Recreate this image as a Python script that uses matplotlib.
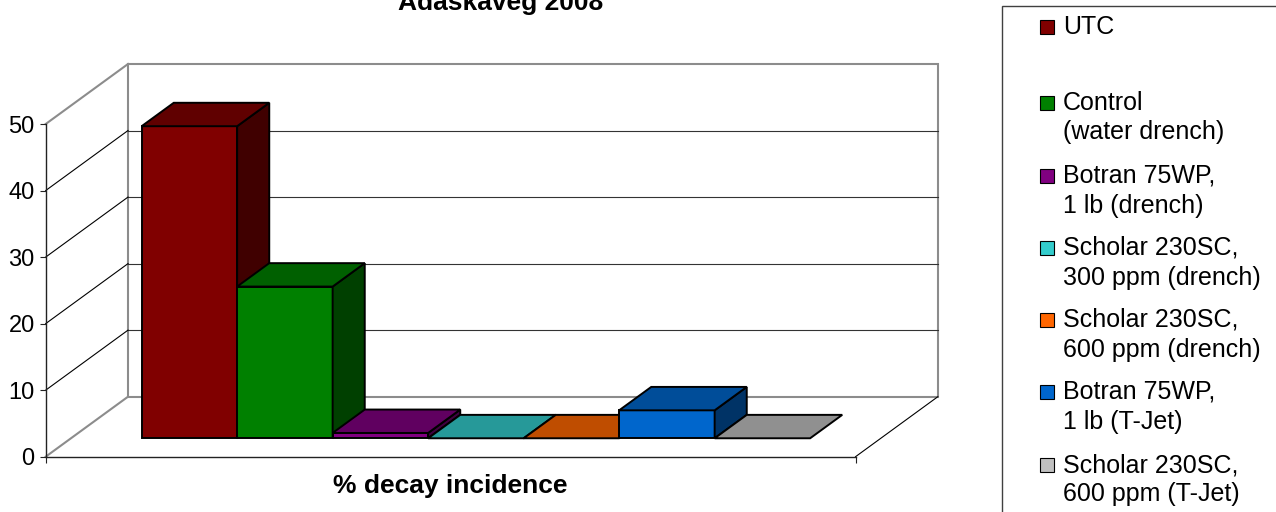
import matplotlib
matplotlib.use("Agg")
import matplotlib.pyplot as plt
from matplotlib.patches import Polygon, Rectangle
from matplotlib.colors import to_rgb

# ---------------- data ----------------
series_labels = [
    "UTC",
    "Control\n(water drench)",
    "Botran 75WP,\n1 lb (drench)",
    "Scholar 230SC,\n300 ppm (drench)",
    "Scholar 230SC,\n600 ppm (drench)",
    "Botran 75WP,\n1 lb (T-Jet)",
    "Scholar 230SC,\n600 ppm (T-Jet)",
]
decay_values = [46.9, 22.8, 0.8, 0.0, 0.0, 4.2, 0.0]
series_colors = ["#800000", "#008000", "#800080", "#33CCCC", "#FF6600", "#0066CC", "#C0C0C0"]
y_ticks = [0, 10, 20, 30, 40, 50]
title_text = "Adaskaveg 2008"
category_label = "% decay incidence"

# ---------------- layout ----------------
plt.rcParams['font.family'] = ['Liberation Sans', 'DejaVu Sans']
W, H = 1276, 512
px_axis_x = 45.7      # front y-axis position (px from left)
px_floor_y = 456.7    # front floor line (px from top)
unit_px = 95.5        # px per bar width
val_px = 6.654        # px per value unit
DX = 0.862            # depth offset, x units
DY = 9.02             # depth offset, value units
gap = 0.74
f_front = 0.307
bar_depth = 0.39
ymax = y_ticks[-1]
n = len(decay_values)
floor_len = 2 * gap + n

fig = plt.figure(figsize=(W / 100, H / 100), dpi=100)
ax = fig.add_axes([0, 0, 1, 1])
ax.set_xlim(-px_axis_x / unit_px, (W - px_axis_x) / unit_px)
ax.set_ylim(-(H - px_floor_y) / val_px, px_floor_y / val_px)
ax.patch.set_alpha(0)

wall_gray = "#8c8c8c"
# back wall
ax.add_patch(Rectangle((DX, DY), floor_len, ymax, facecolor="white",
                       edgecolor=wall_gray, lw=1.5, zorder=1))
for t in y_ticks[1:-1]:
    ax.plot([DX, DX + floor_len], [t + DY, t + DY], color="#333333", lw=0.8, zorder=1.5)
# side wall lines
for t in y_ticks:
    edge = t in (y_ticks[0], y_ticks[-1])
    ax.plot([0, DX], [t, t + DY], color=wall_gray if edge else "black",
            lw=1.5 if edge else 0.8, zorder=1.5)
# floor right edge
ax.plot([floor_len, floor_len + DX], [0, DY], color="black", lw=0.8, zorder=1.5)

# axes spines / ticks
for s in ("top", "right"):
    ax.spines[s].set_visible(False)
ax.spines["left"].set_position(("data", 0))
ax.spines["bottom"].set_position(("data", 0))
ax.spines["left"].set_bounds(0, ymax)
ax.spines["bottom"].set_bounds(0, floor_len)
for s in ("left", "bottom"):
    ax.spines[s].set_color("#222222")
    ax.spines[s].set_linewidth(1.0)
ax.set_yticks(y_ticks)
ax.set_yticklabels([str(t) for t in y_ticks])
ax.set_xticks([0, floor_len])
ax.set_xticklabels([])
ax.tick_params(axis="both", direction="out", length=4.3, width=0.8, color="#222222",
               pad=3.6, labelsize=17)


def P(x, h, d):
    return (x + d * DX, h + d * DY)


def shade(c, k):
    r, g, b = to_rgb(c)
    return (r * k, g * k, b * k)


d0, d1 = f_front, f_front + bar_depth
for i, (v, c) in enumerate(zip(decay_values, series_colors)):
    x0, x1 = gap + i, gap + i + 1
    z = 3 + i
    kw = dict(edgecolor="black", lw=1.4, joinstyle="miter", zorder=z)
    if v > 0:
        ax.add_patch(Polygon([P(x0, 0, d0), P(x1, 0, d0), P(x1, v, d0), P(x0, v, d0)],
                             closed=True, facecolor=c, **kw))
        ax.add_patch(Polygon([P(x1, 0, d0), P(x1, 0, d1), P(x1, v, d1), P(x1, v, d0)],
                             closed=True, facecolor=shade(c, 0.5), **kw))
    ax.add_patch(Polygon([P(x0, v, d0), P(x1, v, d0), P(x1, v, d1), P(x0, v, d1)],
                         closed=True, facecolor=shade(c, 0.75), **kw))

# title and category label
fig.text(501 / W, 1 - 10 / H, title_text, ha="center", va="baseline",
         fontsize=19, fontweight="bold")
fig.text(450 / W, 1 - 493 / H, category_label, ha="center", va="baseline",
         fontsize=19, fontweight="bold")

# legend
fig.add_artist(Rectangle((1002 / W, -0.05), 0.3, 506 / H + 0.05, transform=fig.transFigure,
                         fill=False, edgecolor="#404040", lw=1.0))
baselines = [34.3, 110, 183, 255, 327, 399, 472]
for lab, c, b in zip(series_labels, series_colors, baselines):
    fig.add_artist(Rectangle((1040 / W, 1 - b / H), 14 / W, 14 / H, transform=fig.transFigure,
                             facecolor=c, edgecolor="black", lw=0.8))
    for j, line in enumerate(lab.split("\n")):
        fig.text(1063 / W, 1 - (b + j * 29.5) / H, line, ha="left", va="baseline", fontsize=18)

fig.savefig("out.png", dpi=100)
